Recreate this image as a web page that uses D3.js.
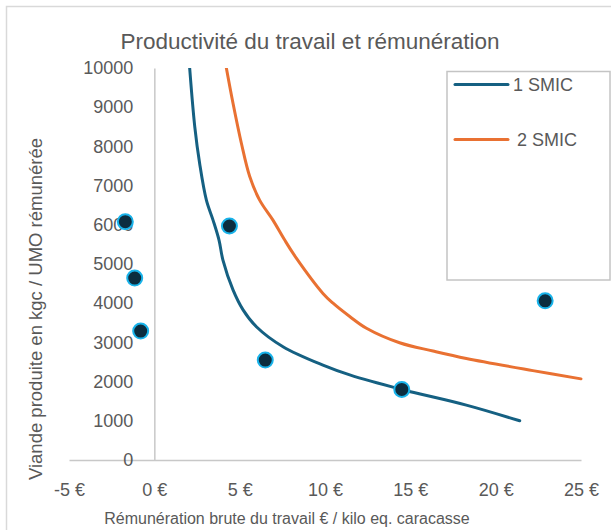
<!DOCTYPE html>
<html>
<head>
<meta charset="utf-8">
<script src="https://cdn.jsdelivr.net/npm/d3@7"></script>
<style>
  html, body { margin: 0; padding: 0; background: #fff; }
  svg text { font-family: "Liberation Sans", Arial, sans-serif; fill: #595959; }
</style>
</head>
<body>
<svg id="chart" width="611" height="530"></svg>
<script>
// Axis ticks
const xTickValues = [-5, 0, 5, 10, 15, 20, 25];
const yTickValues = [0, 1000, 2000, 3000, 4000, 5000, 6000, 7000, 8000, 9000, 10000];

// Farms (scatter points)
const farmX = [-1.7, -1.15, -0.8, 4.4, 6.5, 14.5, 22.9];
const farmY = [6080, 4640, 3290, 5970, 2550, 1800, 4060];

// Iso-remuneration curves
const seriesNames = ["1 SMIC", "2 SMIC"];
const smic1X = [2.07, 2.37, 2.66, 3.05, 3.44, 3.79, 4.02, 4.61, 5.2, 5.98, 7.54, 9.88, 11.45, 14.48, 18.28, 21.41];
const smic1Y = [10000, 8500, 7550, 6630, 6120, 5610, 5100, 4340, 3830, 3400, 2890, 2420, 2170, 1800, 1400, 1000];
const smic2X = [4.22, 4.61, 5.1, 5.59, 6.17, 6.95, 7.64, 8.32, 9.88, 10.47, 11.45, 12.43, 14.37, 16.33, 18.28, 22.18, 25];
const smic2Y = [10000, 9100, 8080, 7230, 6630, 6120, 5610, 5150, 4250, 4000, 3660, 3360, 2990, 2780, 2590, 2280, 2070];

const colors = ["#156082", "#e97132"];

const svg = d3.select("#chart");

// chart border
svg.append("rect")
  .attr("x", 6.5).attr("y", 6.5)
  .attr("width", 700).attr("height", 600)
  .attr("fill", "none")
  .attr("stroke", "#d9d9d9")
  .attr("stroke-width", 1.5);

const plot = { left: 69, right: 581, top: 68, bottom: 460 };

const x = d3.scaleLinear().domain([-5, 25]).range([plot.left, plot.right]);
const y = d3.scaleLinear().domain([0, 10000]).range([plot.bottom, plot.top]);

// title
svg.append("text")
  .attr("x", 310).attr("y", 49)
  .attr("text-anchor", "middle")
  .style("font-size", "22.5px")
  .text("Productivité du travail et rémunération");

// x axis
const xAxis = svg.append("g")
  .attr("transform", `translate(0,${y(0)})`)
  .call(d3.axisBottom(x).tickValues(xTickValues).tickSize(0).tickSizeOuter(0).tickPadding(23)
    .tickFormat(d => d + " €"));

// y axis (crosses at 0 €)
const yAxis = svg.append("g")
  .attr("transform", `translate(${x(0)},0)`)
  .call(d3.axisLeft(y).tickValues(yTickValues).tickSize(0).tickSizeOuter(0).tickPadding(21)
    .tickFormat(d3.format("d")));

[xAxis, yAxis].forEach(g => {
  g.select(".domain").attr("stroke", "#c8c8c8").attr("stroke-width", 1.5);
  g.selectAll("text").style("font-size", "18px").attr("fill", "#595959")
    .style("font-family", '"Liberation Sans", Arial, sans-serif');
});

// axis titles
svg.append("text")
  .attr("x", 287).attr("y", 524)
  .attr("text-anchor", "middle")
  .style("font-size", "16px")
  .text("Rémunération brute du travail € / kilo eq. caracasse");

svg.append("text")
  .attr("transform", "translate(42,309) rotate(-90)")
  .attr("text-anchor", "middle")
  .style("font-size", "18.5px")
  .text("Viande produite en kgc / UMO rémunérée");

// clip for curves
svg.append("clipPath").attr("id", "plotClip")
  .append("rect")
  .attr("x", plot.left).attr("y", plot.top)
  .attr("width", plot.right - plot.left + 2)
  .attr("height", plot.bottom - plot.top);

const line = d3.line()
  .x(d => x(d[0]))
  .y(d => y(d[1]))
  .curve(d3.curveCatmullRom.alpha(0.5));

const series = [
  d3.zip(smic1X, smic1Y),
  d3.zip(smic2X, smic2Y)
];

svg.append("g").attr("clip-path", "url(#plotClip)")
  .selectAll("path")
  .data(series)
  .join("path")
  .attr("fill", "none")
  .attr("stroke", (d, i) => colors[i])
  .attr("stroke-width", 3)
  .attr("stroke-linecap", "round")
  .attr("d", line);

// scatter points
svg.append("g")
  .selectAll("circle")
  .data(d3.zip(farmX, farmY))
  .join("circle")
  .attr("cx", d => x(d[0]))
  .attr("cy", d => y(d[1]))
  .attr("r", 7.5)
  .attr("fill", "#0c2d3f")
  .attr("stroke", "#19b3ea")
  .attr("stroke-width", 2);

// legend
const legend = svg.append("g");
legend.append("rect")
  .attr("x", 447).attr("y", 71.5)
  .attr("width", 163).attr("height", 208.5)
  .attr("fill", "#fff")
  .attr("stroke", "#c4c4c4")
  .attr("stroke-width", 1.5);

const legendRows = [84.5, 139.5];
const legendTextX = [513, 517];
seriesNames.forEach((name, i) => {
  legend.append("line")
    .attr("x1", 455).attr("x2", 508)
    .attr("y1", legendRows[i]).attr("y2", legendRows[i])
    .attr("stroke", colors[i])
    .attr("stroke-width", 3)
    .attr("stroke-linecap", "round");
  legend.append("text")
    .attr("x", legendTextX[i]).attr("y", legendRows[i])
    .attr("dy", "0.35em")
    .style("font-size", "18px")
    .text(name);
});
</script>
</body>
</html>
